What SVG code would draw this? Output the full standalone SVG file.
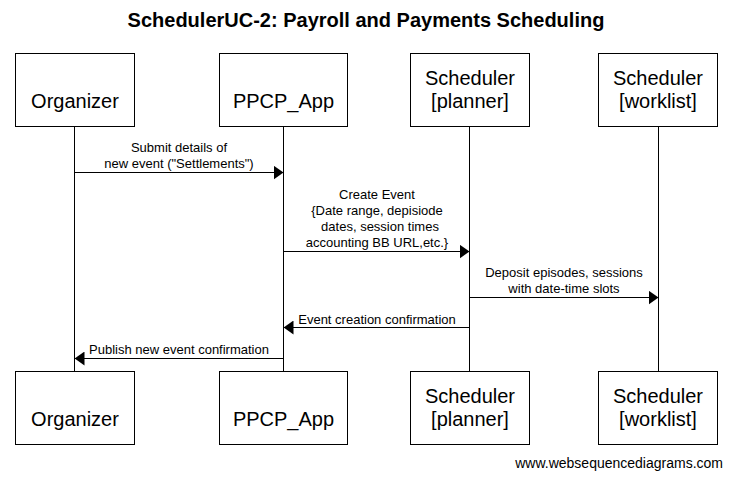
<svg xmlns="http://www.w3.org/2000/svg" width="732" height="479" viewBox="0 0 732 479">
<style>
.box{fill:#fff;stroke:#000;stroke-width:1}
.pt{font-family:"Liberation Sans",Arial,sans-serif;font-size:20px;fill:#000;text-anchor:middle}
.mt{font-family:"Liberation Sans",Arial,sans-serif;font-size:13px;fill:#000;text-anchor:middle}
.life{stroke:#000;stroke-width:1;fill:none}
.msg{stroke:#000;stroke-width:1;fill:none;marker-end:url(#ah)}
</style>
<defs>
<marker id="ah" markerWidth="10" markerHeight="14" refX="10" refY="7" orient="auto" markerUnits="userSpaceOnUse"><path d="M0,0 L10,7 L0,14 z" fill="#000"/></marker>
</defs>
<rect width="732" height="479" fill="#fff"/>
<text x="366" y="27" font-family="'Liberation Sans',Arial,sans-serif" font-size="20" font-weight="bold" text-anchor="middle">SchedulerUC-2: Payroll and Payments Scheduling</text>
<g id="lifelines">
<line class="life" x1="74.5" y1="126" x2="74.5" y2="371"/>
<line class="life" x1="283.5" y1="126" x2="283.5" y2="371"/>
<line class="life" x1="469.5" y1="126" x2="469.5" y2="371"/>
<line class="life" x1="658.5" y1="126" x2="658.5" y2="371"/>
</g>
<g id="organizer">
<rect class="box" x="15.5" y="53.5" width="119" height="73"/>
<text class="pt" x="75" y="108">Organizer</text>
<rect class="box" x="15.5" y="371.5" width="119" height="73"/>
<text class="pt" x="75" y="426">Organizer</text>
</g>
<g id="ppcp_app">
<rect class="box" x="219.5" y="53.5" width="128" height="73"/>
<text class="pt" x="283.5" y="108">PPCP_App</text>
<rect class="box" x="219.5" y="371.5" width="128" height="73"/>
<text class="pt" x="283.5" y="426">PPCP_App</text>
</g>
<g id="scheduler_planner">
<rect class="box" x="410.5" y="53.5" width="119" height="73"/>
<text class="pt" x="470" y="85">Scheduler</text>
<text class="pt" x="470" y="108">[planner]</text>
<rect class="box" x="410.5" y="371.5" width="119" height="73"/>
<text class="pt" x="470" y="403">Scheduler</text>
<text class="pt" x="470" y="426">[planner]</text>
</g>
<g id="scheduler_worklist">
<rect class="box" x="598.5" y="53.5" width="119" height="73"/>
<text class="pt" x="658" y="85">Scheduler</text>
<text class="pt" x="658" y="108">[worklist]</text>
<rect class="box" x="598.5" y="371.5" width="119" height="73"/>
<text class="pt" x="658" y="403">Scheduler</text>
<text class="pt" x="658" y="426">[worklist]</text>
</g>
<g id="connectors">
<line class="msg" x1="74.5" y1="172.5" x2="283.5" y2="172.5"/>
<text class="mt" x="179" y="152">Submit details of</text>
<text class="mt" x="179" y="168">new event ("Settlements")</text>
<line class="msg" x1="283.5" y1="251.5" x2="469.5" y2="251.5"/>
<text class="mt" x="377" y="199">Create Event</text>
<text class="mt" x="377" y="215">{Date range, depisiode</text>
<text class="mt" x="380" y="231">dates, session times</text>
<text class="mt" x="377" y="247">accounting BB URL,etc.}</text>
<line class="msg" x1="469.5" y1="297.5" x2="658.5" y2="297.5"/>
<text class="mt" x="564" y="277">Deposit episodes, sessions</text>
<text class="mt" x="564" y="293">with date-time slots</text>
<line class="msg" x1="469.5" y1="327.5" x2="283.5" y2="327.5"/>
<text class="mt" x="377" y="324">Event creation confirmation</text>
<line class="msg" x1="283.5" y1="358.5" x2="74.5" y2="358.5"/>
<text class="mt" x="179" y="354">Publish new event confirmation</text>
</g>
<text x="723" y="468" font-family="'Liberation Sans',Arial,sans-serif" font-size="14" text-anchor="end">www.websequencediagrams.com</text>
</svg>
